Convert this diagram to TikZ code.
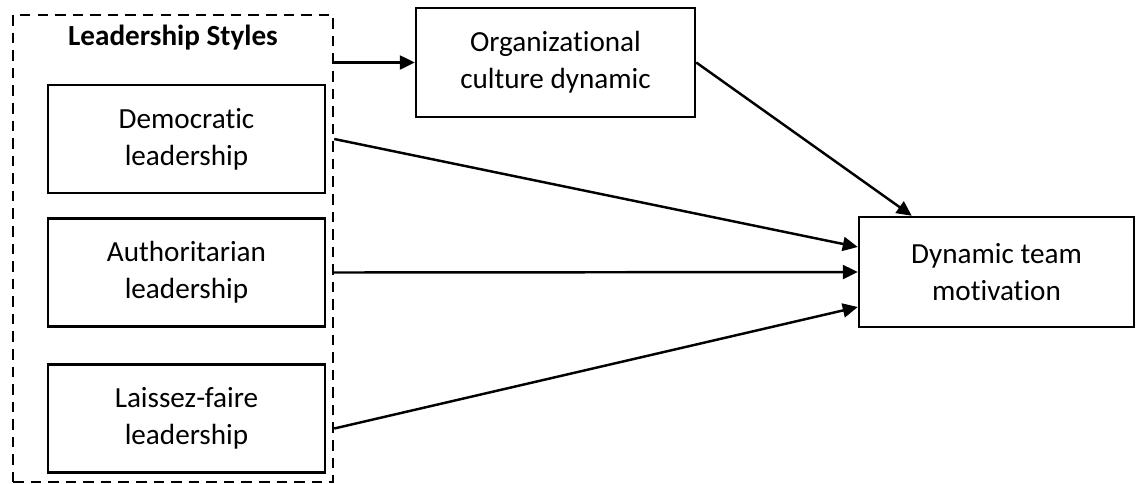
\documentclass[tikz,border=0pt]{standalone}
\usepackage{fontspec}
\setmainfont{Carlito}[Ligatures={NoCommon}]
\usetikzlibrary{arrows.meta}

\tikzset{
	boxnode/.style={draw, line width=1.4pt, inner sep=0pt, align=center,
		minimum width=5.54cm, minimum height=2.16cm,
		font=\fontsize{16.6}{21}\selectfont},
	arr/.style={line width=1.4pt, -{Triangle[length=0.3cm, width=0.28cm]}}
}

\begin{document}
\begin{tikzpicture}
		
			\useasboundingbox (0,0) rectangle (22.72,-9.66);
			
			\node[draw, line width=1.4pt, dash pattern=on 6pt off 4pt, inner sep=0pt,
				minimum width=6.40cm, minimum height=9.34cm] (group) at (3.46,-4.97) {};
			\node[font=\fontsize{16.6}{21}\selectfont\bfseries] (grouptitle) at (3.46,-0.76) {Leadership Styles};
			
			\foreach \name/\txt/\y in {dem/Democratic/-2.78, auth/Authoritarian/-5.45, lf/Laissez-faire/-8.37}
			{
				\node[boxnode] (\name) at (3.73,\y) {\txt\\leadership};
			}
			
			\node[boxnode, minimum width=5.58cm, minimum height=2.18cm] (org) at (11.11,-1.25) {Organizational\\culture dynamic};
			\node[boxnode, minimum width=5.50cm, minimum height=2.20cm] (dyn) at (19.93,-5.44) {Dynamic team\\motivation};
			
			\path (lf.east -| group.east) ++(0,-0.2) coordinate (lfout);
			
			\draw[arr] (org.west -| group.east) -- (org.west);
			\draw[arr] (org.east) -- ([xshift=1.08cm]dyn.north west);
			\draw[arr] (dem.east -| group.east) -- ([yshift=0.5cm]dyn.west);
			\draw[arr] (auth.east -| group.east) -- (dyn.west);
			\draw[arr] (lfout) -- ([yshift=-0.7cm]dyn.west);
		
		\end{tikzpicture}
\end{document}
